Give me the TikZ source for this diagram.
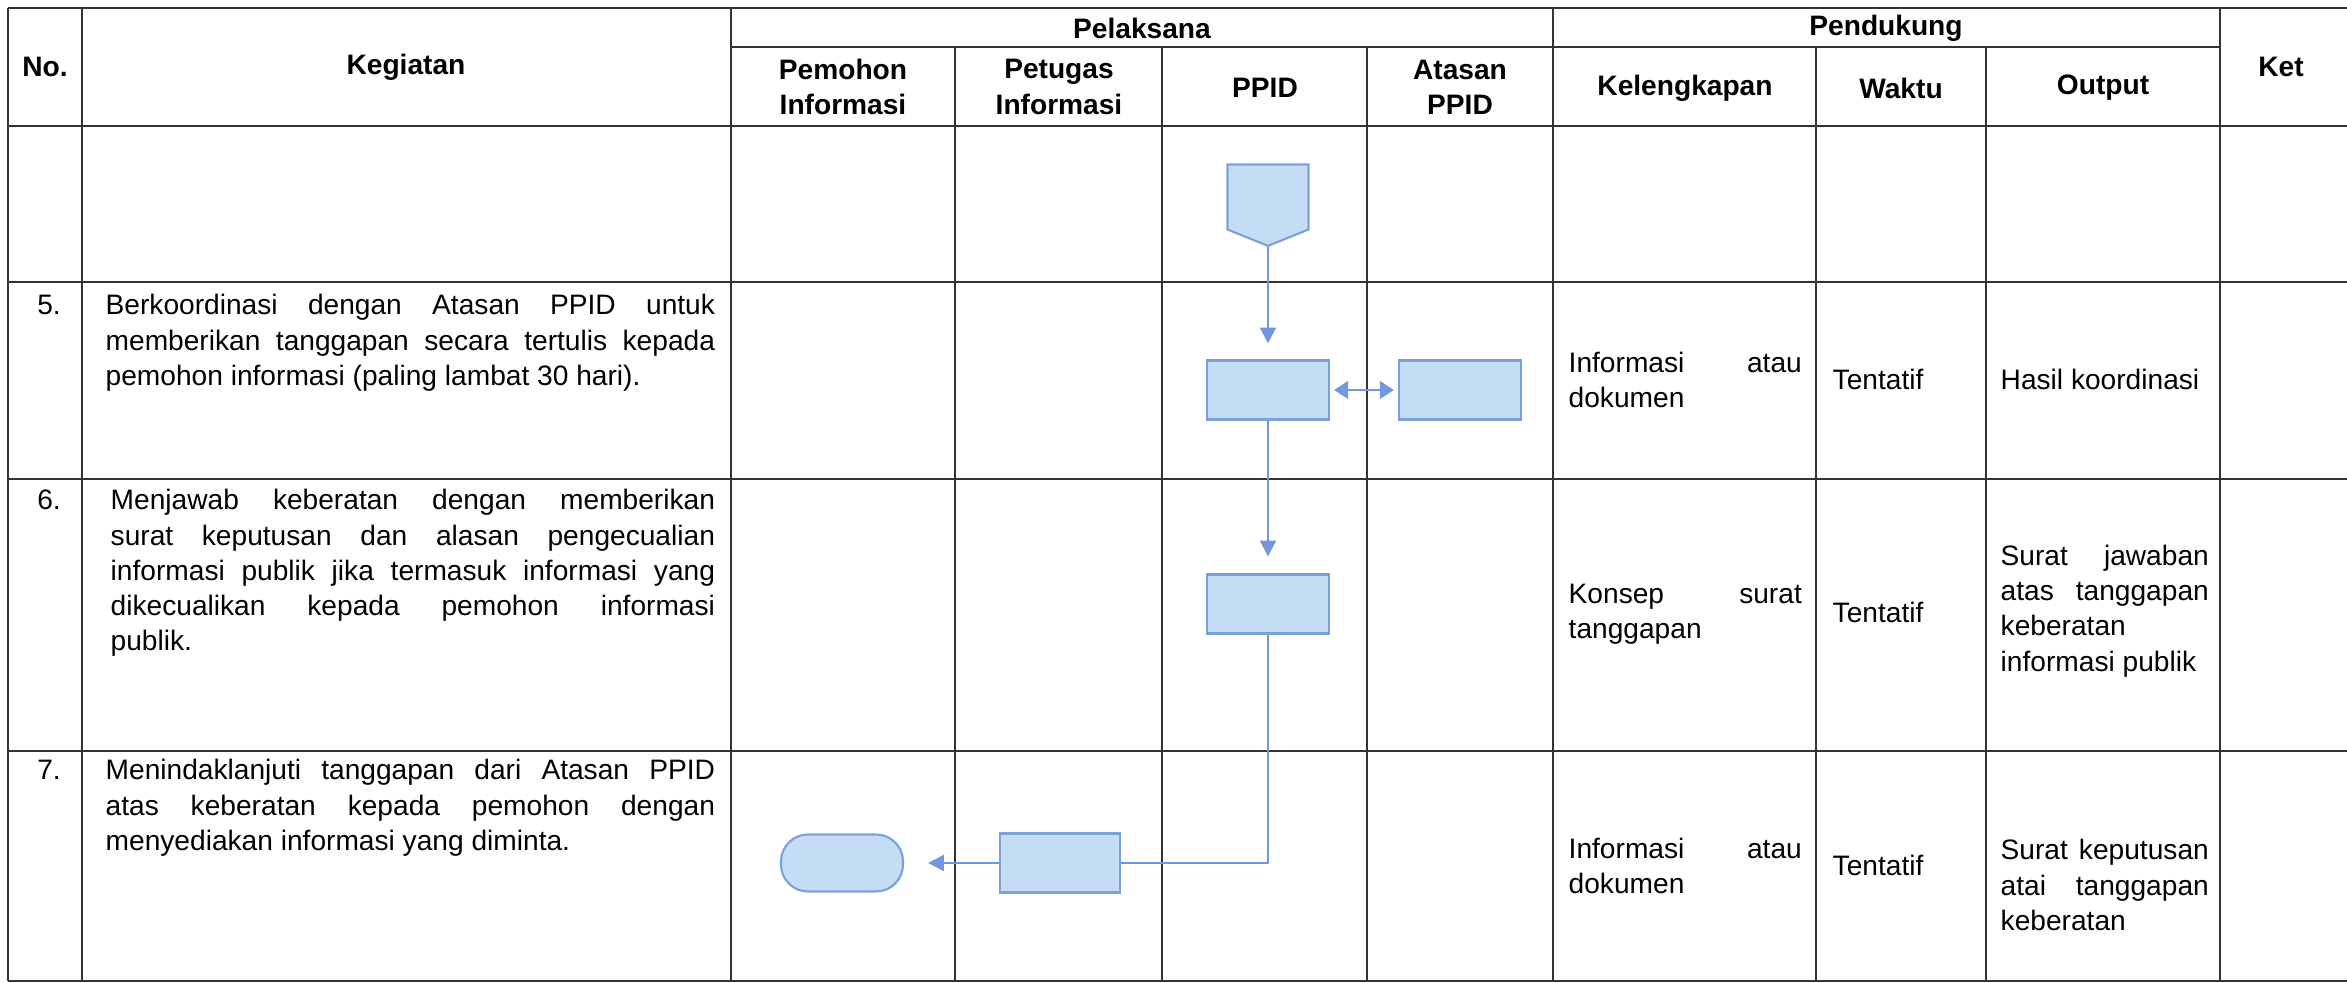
\documentclass[tikz,border=0pt]{standalone}
\usepackage{fontspec}
\setmainfont{Liberation Sans}
\usetikzlibrary{arrows.meta,shapes.symbols,positioning}
\definecolor{flowfill}{HTML}{C5DCF5}
\definecolor{flowedge}{HTML}{7AA1DB}
\definecolor{flowarrow}{HTML}{6F98DE}
\definecolor{tableline}{HTML}{333333}
\tikzset{
  tline/.style={draw=tableline, line width=0.6pt},
  headtext/.style={font=\bfseries, align=center, inner sep=0pt},
  numtext/.style={anchor=base, inner sep=0pt},
  kegtext/.style={anchor=base west, align=justify, text width=6.09cm, inner sep=0pt},
  celltext/.style={anchor=west, align=justify, inner sep=0pt},
  procbox/.style={draw=flowedge, fill=flowfill, line width=0.6pt, minimum width=1.22cm, minimum height=0.59cm, inner sep=0pt},
  termbox/.style={procbox, rounded corners=0.27cm, minimum height=0.57cm},
  connbox/.style={draw=flowedge, fill=flowfill, line width=0.6pt, signal, signal to=south, signal pointer angle=136, minimum width=0.81cm, minimum height=0.65cm, inner sep=0pt},
  flow/.style={draw=flowarrow, line width=0.7pt, -{Triangle[length=4.5pt,width=4.5pt]}},
  flowboth/.style={draw=flowarrow, line width=0.7pt, {Triangle[length=4pt,width=5pt]}-{Triangle[length=4pt,width=5pt]}},
  flowplain/.style={draw=flowarrow, line width=0.7pt},
}
\begin{document}
\begin{tikzpicture}[x=0.01cm, y=-0.01cm]
\useasboundingbox (0,0) rectangle (2347,983);
{\fontsize{8}{10}\selectfont

% Drawing table lines (horizontal)
\draw [tline] (8,8) -- (2347,8);
\draw [tline] (731,47) -- (2220,47);
\draw [tline] (8,126) -- (2347,126);
\draw [tline] (8,282) -- (2347,282);
\draw [tline] (8,479) -- (2347,479);
\draw [tline] (8,751) -- (2347,751);
\draw [tline] (8,981) -- (2347,981);

% Drawing table lines (vertical)
\draw [tline] (8,8) -- (8,981);
\draw [tline] (82,8) -- (82,981);
\draw [tline] (731,8) -- (731,981);
\draw [tline] (955,47) -- (955,981);
\draw [tline] (1162,47) -- (1162,981);
\draw [tline] (1367,47) -- (1367,981);
\draw [tline] (1553,8) -- (1553,981);
\draw [tline] (1816,47) -- (1816,981);
\draw [tline] (1986,47) -- (1986,981);
\draw [tline] (2220,8) -- (2220,981);

% Marking header texts
\node [headtext] (hpelaksana) at (1142,28) {Pelaksana};
\node [headtext] (hpendukung) at (1886,28) {Pendukung};
\node [headtext] (hno) at (45,67) {No.};
\node [headtext] (hkegiatan) at (406,67) {Kegiatan};
\node [headtext] (hpemohon) at (843,87) {Pemohon\\Informasi};
\node [headtext] (hpetugas) at (1059,87) {Petugas\\Informasi};
\node [headtext] (hppid) at (1265,88) {PPID};
\node [headtext] (hatasan) at (1460,87) {Atasan\\PPID};
\node [headtext] (hkelengkapan) at (1685,88) {Kelengkapan};
\node [headtext] (hwaktu) at (1901,88) {Waktu};
\node [headtext] (houtput) at (2103,88) {Output};
\node [headtext] (hket) at (2281,67) {Ket};

% Marking row 5
\node [numtext] (nolima) at (49,315) {5.};
\node [kegtext] (keglima) at (105,315) {Berkoordinasi dengan Atasan PPID untuk\linebreak memberikan tanggapan secara tertulis kepada\linebreak pemohon informasi (paling lambat 30 hari).};
\node [celltext, text width=2.33cm] (kellima) at (1568,380) {Informasi atau\linebreak dokumen};
\node [celltext] (wktlima) at (1832,379) {Tentatif};
\node [celltext, text width=2.08cm] (outlima) at (2000,379) {Hasil koordinasi};

% Marking row 6
\node [numtext] (noenam) at (49,510) {6.};
\node [kegtext, text width=6.04cm] (kegenam) at (110,510) {Menjawab keberatan dengan memberikan\linebreak surat keputusan dan alasan pengecualian\linebreak informasi publik jika termasuk informasi yang\linebreak dikecualikan kepada pemohon informasi\linebreak publik.};
\node [celltext, text width=2.33cm] (kelenam) at (1568,614) {Konsep surat\linebreak tanggapan};
\node [celltext] (wktenam) at (1832,612) {Tentatif};
\node [celltext, text width=2.08cm] (outenam) at (2000,611) {Surat jawaban\linebreak atas tanggapan\linebreak keberatan\\informasi publik};

% Marking row 7
\node [numtext] (notujuh) at (49,780) {7.};
\node [kegtext] (kegtujuh) at (105,780) {Menindaklanjuti tanggapan dari Atasan PPID\linebreak atas keberatan kepada pemohon dengan\linebreak menyediakan informasi yang diminta.};
\node [celltext, text width=2.33cm] (keltujuh) at (1568,866) {Informasi atau\linebreak dokumen};
\node [celltext] (wkttujuh) at (1832,865) {Tentatif};
\node [celltext, text width=2.08cm] (outtujuh) at (2000,885) {Surat keputusan\linebreak atai tanggapan\linebreak keberatan};

% Marking flow shapes
\node [connbox] (sambung) at (1268,197) {};
\node [procbox] (koordinasi) at (1268,390) {};
\node [procbox] (atasan) at (1460,390) {};
\node [procbox] (jawaban) at (1268,604) {};
\node [procbox, minimum width=1.2cm] (tindak) at (1060,863) {};
\node [termbox] (selesai) at (842,863) {};

% Drawing flow connectors
\draw [flow, shorten >=0.16cm] (sambung.south) -- (koordinasi.north);
\draw [flowboth, shorten <=0.04cm, shorten >=0.04cm] (koordinasi.east) -- (atasan.west);
\draw [flow, shorten >=0.17cm] (koordinasi.south) -- (jawaban.north);
\draw [flowplain] (jawaban.south) |- (tindak.east);
\draw [flow, shorten >=0.24cm] (tindak.west) -- (selesai.east);
}
\end{tikzpicture}
\end{document}
